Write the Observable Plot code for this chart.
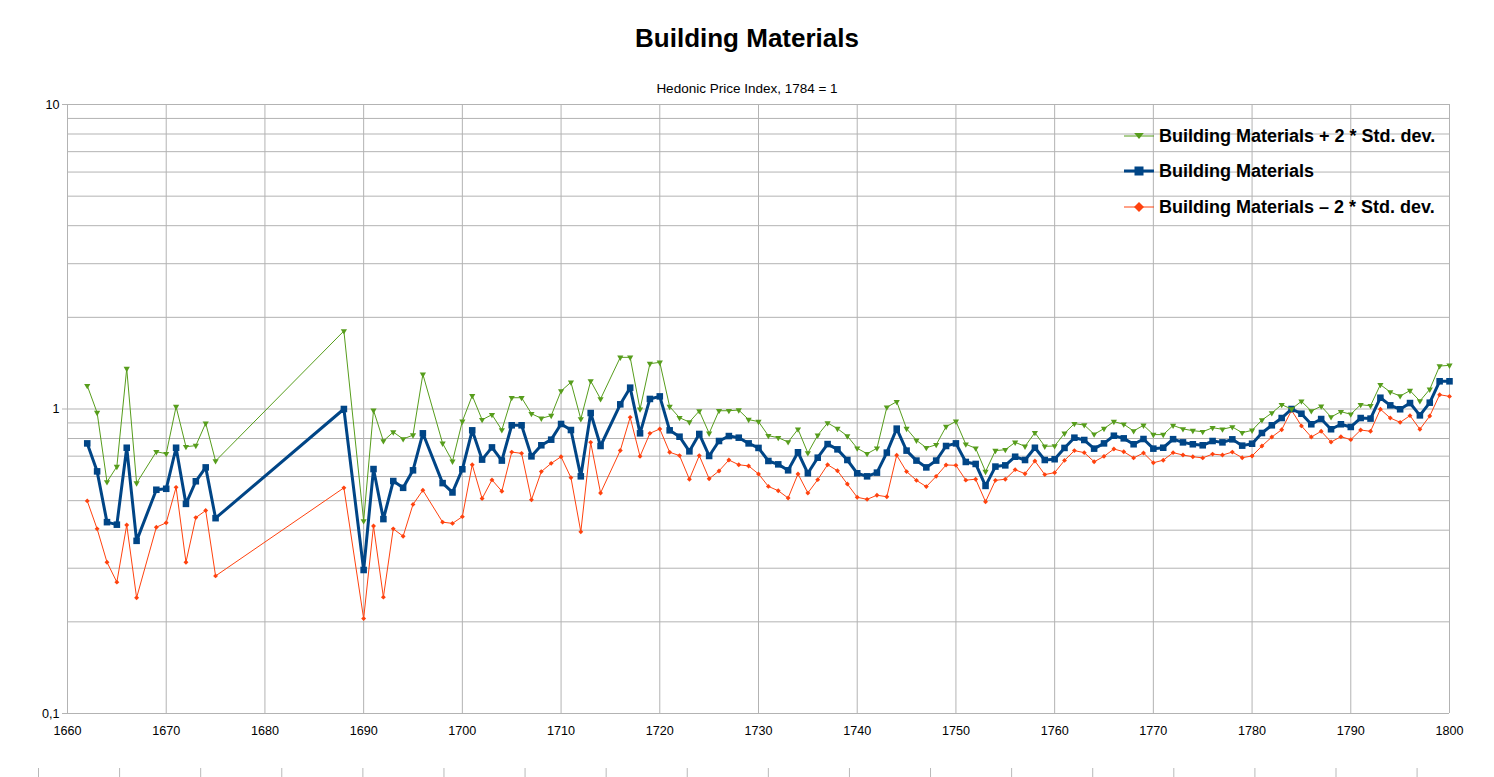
<!DOCTYPE html>
<html>
<head>
<meta charset="utf-8">
<script src="https://cdn.jsdelivr.net/npm/d3@7"></script>
<script src="https://cdn.jsdelivr.net/npm/@observablehq/plot@0.6"></script>
<style>
  html, body { margin: 0; padding: 0; background: #fff; }
  body { font-family: "Liberation Sans", Arial, sans-serif; color: #000; }
  #wrap { position: relative; width: 1494px; height: 777px; overflow: hidden; }
  #title { position: absolute; left: 0; top: 22px; width: 1494px; text-align: center;
           font-weight: bold; font-size: 26px; line-height: 32px; }
  #subtitle { position: absolute; left: 0; top: 81px; width: 1494px; text-align: center;
              font-size: 13.5px; line-height: 16px; }
  #chart { position: absolute; left: 0; top: 94px; }
  #legend { position: absolute; left: 1124px; top: 0; }
  .lrow { position: absolute; left: 0; display: flex; align-items: center; height: 24px; white-space: nowrap; }
  .lrow svg { display: block; }
  .lrow span { font-weight: bold; font-size: 18px; margin-left: 5px; }
  #marks { position: absolute; left: 0; top: 768px; width: 1494px; height: 9px;
           background-image: linear-gradient(to right, #b8b8b8 1px, transparent 1px);
           background-size: 81.1px 100%; background-position: 38px 0; background-repeat: repeat-x; }
</style>
</head>
<body>
<div id="wrap">
  <div id="title">Building Materials</div>
  <div id="subtitle">Hedonic Price Index, 1784 = 1</div>
  <div id="chart"></div>
  <div id="legend"></div>
  <div id="marks"></div>
</div>
<script>
// ---- data ----
const years = [1662,1663,1664,1665,1666,1667,1669,1670,1671,1672,1673,1674,1675,1688,
  1690,1691,1692,1693,1694,1695,1696,1698,1699,1700,1701,1702,1703,1704,1705,1706,1707,1708,1709,1710,1711,1712,1713,1714,
  1716,1717,1718,1719,1720,1721,1722,1723,1724,1725,1726,1727,1728,1729,1730,1731,1732,1733,1734,1735,1736,1737,1738,1739,
  1740,1741,1742,1743,1744,1745,1746,1747,1748,1749,1750,1751,1752,1753,1754,1755,1756,1757,1758,1759,
  1760,1761,1762,1763,1764,1765,1766,1767,1768,1769,1770,1771,1772,1773,1774,1775,1776,1777,1778,1779,
  1780,1781,1782,1783,1784,1785,1786,1787,1788,1789,1790,1791,1792,1793,1794,1795,1796,1797,1798,1799,1800];

const buildingMaterials = [0.771,0.624,0.425,0.417,0.746,0.369,0.543,0.547,0.746,0.488,0.579,0.643,0.438,1.0,
  0.296,0.635,0.435,0.580,0.551,0.629,0.832,0.571,0.532,0.634,0.851,0.682,0.748,0.677,0.884,0.884,0.699,0.760,0.793,0.893,0.853,0.601,0.970,0.756,
  1.036,1.175,0.832,1.079,1.100,0.851,0.811,0.726,0.828,0.701,0.785,0.815,0.805,0.771,0.745,0.675,0.658,0.629,0.721,0.615,0.692,0.767,0.737,0.680,
  0.615,0.601,0.618,0.719,0.862,0.730,0.677,0.643,0.677,0.756,0.771,0.670,0.660,0.559,0.647,0.653,0.697,0.680,0.746,0.680,
  0.684,0.745,0.805,0.791,0.741,0.771,0.817,0.801,0.766,0.797,0.741,0.746,0.796,0.777,0.766,0.760,0.785,0.777,0.795,0.758,
  0.769,0.834,0.884,0.934,1.0,0.965,0.891,0.927,0.858,0.891,0.873,0.934,0.930,1.089,1.028,0.998,1.046,0.953,1.049,1.233,1.233];

const plus2sd = [1.193,0.973,0.576,0.647,1.357,0.571,0.724,0.713,1.018,0.752,0.758,0.898,0.675,1.804,
  0.429,0.990,0.785,0.840,0.797,0.821,1.300,0.771,0.673,0.911,1.106,0.922,0.958,0.853,1.089,1.089,0.965,0.932,0.951,1.146,1.224,0.927,1.236,1.079,
  1.478,1.478,0.998,1.409,1.423,1.018,0.936,0.906,0.985,0.832,0.987,0.987,0.992,0.923,0.909,0.817,0.805,0.779,0.858,0.717,0.820,0.900,0.862,0.815,
  0.743,0.713,0.743,1.013,1.057,0.862,0.789,0.746,0.763,0.875,0.911,0.766,0.743,0.623,0.730,0.735,0.777,0.754,0.836,0.754,
  0.756,0.832,0.895,0.886,0.826,0.862,0.909,0.891,0.847,0.884,0.824,0.824,0.883,0.860,0.849,0.842,0.868,0.858,0.873,0.836,
  0.851,0.920,0.970,1.033,1.0,1.060,0.985,1.021,0.941,0.980,0.961,1.033,1.025,1.202,1.137,1.103,1.149,1.062,1.160,1.384,1.391];

const minus2sd = [0.499,0.404,0.314,0.270,0.416,0.240,0.409,0.423,0.553,0.314,0.440,0.464,0.283,0.551,
  0.205,0.413,0.241,0.404,0.382,0.486,0.541,0.425,0.421,0.443,0.656,0.508,0.585,0.537,0.722,0.715,0.503,0.623,0.663,0.697,0.595,0.395,0.777,0.530,
  0.731,0.939,0.699,0.832,0.860,0.721,0.703,0.588,0.703,0.590,0.626,0.680,0.656,0.650,0.612,0.557,0.539,0.510,0.612,0.530,0.586,0.656,0.627,0.567,
  0.513,0.505,0.521,0.515,0.705,0.623,0.583,0.556,0.601,0.655,0.653,0.584,0.588,0.496,0.583,0.588,0.632,0.613,0.675,0.609,
  0.618,0.678,0.730,0.719,0.671,0.699,0.739,0.724,0.691,0.717,0.666,0.679,0.719,0.706,0.697,0.691,0.711,0.706,0.722,0.692,
  0.701,0.756,0.809,0.855,0.990,0.880,0.809,0.845,0.779,0.811,0.793,0.853,0.845,0.998,0.934,0.904,0.951,0.858,0.948,1.114,1.100];

const seriesNames = ["Building Materials + 2 * Std. dev.", "Building Materials", "Building Materials \u2013 2 * Std. dev."];
const seriesColors = ["#579d1c", "#004586", "#ff420e"];

const xTicks = [1660,1670,1680,1690,1700,1710,1720,1730,1740,1750,1760,1770,1780,1790,1800];
const yTicks = [0.1, 1, 10];
const yTickLabels = ["0,1", "1", "10"];
const yGrid = [0.1,0.2,0.3,0.4,0.5,0.6,0.7,0.8,0.9,1,2,3,4,5,6,7,8,9,10];

// ---- build tables ----
const rows = (vals) => years.map((y, i) => ({year: y, value: vals[i]}));
const green = rows(plus2sd), blue = rows(buildingMaterials), red = rows(minus2sd);

const chart = Plot.plot({
  width: 1494,
  height: 683,
  marginTop: 10,
  marginBottom: 64,
  marginLeft: 67,
  marginRight: 45,
  style: {fontFamily: "'Liberation Sans', Arial, sans-serif", fontSize: "12.6px", color: "#000", background: "transparent"},
  x: {type: "linear", domain: [1660, 1800], label: null},
  y: {type: "log", domain: [0.1, 10], label: null},
  marks: [
    Plot.ruleY(yGrid, {stroke: "#b3b3b3", strokeWidth: 1}),
    Plot.ruleX(xTicks, {stroke: "#b3b3b3", strokeWidth: 1}),
    Plot.axisX({ticks: xTicks, tickSize: 0, tickPadding: 13, label: null, tickFormat: d => String(d), fill: "#000"}),
    Plot.axisY({ticks: yTicks, tickSize: 5, tickPadding: 3, label: null, stroke: "#b3b3b3", fill: "#000",
                tickFormat: d => yTickLabels[yTicks.indexOf(d)]}),
    // lower band
    Plot.line(red, {x: "year", y: "value", stroke: seriesColors[2], strokeWidth: 1}),
    Plot.dot(red, {x: "year", y: "value", symbol: "diamond2", r: 2.2, fill: seriesColors[2], stroke: null}),
    // main series
    Plot.line(blue, {x: "year", y: "value", stroke: seriesColors[1], strokeWidth: 3, strokeLinejoin: "miter"}),
    Plot.dot(blue, {x: "year", y: "value", symbol: "square", r: 3.7, fill: seriesColors[1], stroke: null}),
    // upper band
    Plot.line(green, {x: "year", y: "value", stroke: seriesColors[0], strokeWidth: 1}),
    Plot.dot(green, {x: "year", y: "value", symbol: "triangle", rotate: 180, r: 2.3, fill: seriesColors[0], stroke: null})
  ]
});
document.getElementById("chart").appendChild(chart);

// ---- legend (overlay) ----
const legendTops = [124, 159, 195];
const legendSymbols = [
  c => `<path d="M8,-5 L0,5 L-8,-5Z" transform="translate(15,7) scale(0.6)" fill="${c}"/>`,
  c => `<rect x="10.5" y="2.5" width="9" height="9" fill="${c}"/>`,
  c => `<path d="M15,2 L20,7 L15,12 L10,7Z" fill="${c}"/>`
];
const legendWidths = [1, 3, 1];
const legend = document.getElementById("legend");
seriesNames.forEach((name, i) => {
  const row = document.createElement("div");
  row.className = "lrow";
  row.style.top = legendTops[i] + "px";
  row.innerHTML = `<svg width="30" height="14" viewBox="0 0 30 14">
      <line x1="0" y1="7" x2="30" y2="7" stroke="${seriesColors[i]}" stroke-width="${legendWidths[i]}"/>
      ${legendSymbols[i](seriesColors[i])}
    </svg><span>${name}</span>`;
  legend.appendChild(row);
});
</script>
</body>
</html>
